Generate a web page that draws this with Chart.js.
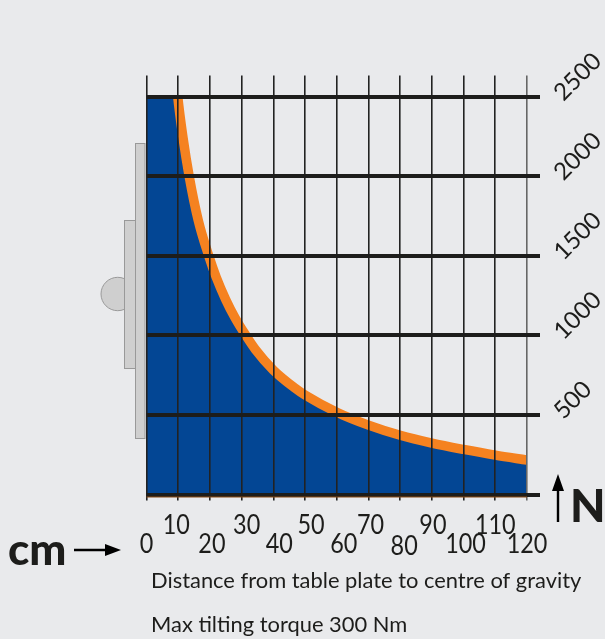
<!DOCTYPE html>
<html>
<head>
<meta charset="utf-8">
<title>Max tilting torque</title>
<script src="https://cdn.jsdelivr.net/npm/chart.js@4/dist/chart.umd.min.js"></script>
<style>
  html, body { margin: 0; padding: 0; background: #e9eaec; overflow: hidden; }
  canvas { display: block; }
</style>
</head>
<body>
<canvas id="chart" width="605" height="639"></canvas>
<script>
// values, middle of the orange band
// (first two points sit above the axis top and get clipped, they only close the blue area)
const distance = [0, 9.4, 9.85, 11.5, 13.45, 16.3, 19.65, 22, 25, 28, 31.3, 34.3, 40, 46.8, 50, 60, 70, 80, 90, 100, 110, 120];
const load = [2600, 2600, 2500, 2243, 2000, 1724, 1498, 1364, 1224, 1107, 1000, 912, 782, 669, 625, 517, 436, 372, 323, 283, 247, 216];
const distTicks = [0, 10, 20, 30, 40, 50, 60, 70, 80, 90, 100, 110, 120];
const loadTicks = [0, 500, 1000, 1500, 2000, 2500];
const captions = ["Distance from table plate to centre of gravity", "Max tilting torque 300 Nm"];

const ink = "#1d1d1b";
const font = "Lato";

// hand placed label nudges, the labels in the original are not on their ticks
const labelNudge = { 0: 0, 10: -2, 20: 2, 30: 5, 40: 6, 50: 6, 60: 7, 70: 2, 80: 4, 90: 1, 100: 2, 110: 0, 120: 0 };

const extras = {
  id: "extras",
  beforeDatasetsDraw(chart) {
    const c = chart.ctx;
    // table plate side view
    c.save();
    c.fillStyle = "#cfcfcf";
    c.strokeStyle = "#999";
    c.lineWidth = 1;
    c.beginPath();
    c.arc(117.7, 294, 16.7, 0, Math.PI * 2);
    c.fill();
    c.stroke();
    c.fillRect(124.5, 220.5, 11, 148);
    c.strokeRect(124.5, 220.5, 11, 148);
    c.fillRect(135.5, 143.5, 9.5, 295);
    c.strokeRect(135.5, 143.5, 9.5, 295);
    c.restore();
  },
  afterDraw(chart) {
    const c = chart.ctx;
    const x = chart.scales.x;
    const y = chart.scales.y;
    c.save();
    // thin brown edge under the base line
    c.strokeStyle = "#8a4a14";
    c.lineWidth = 1;
    c.beginPath();
    c.moveTo(x.getPixelForValue(0), y.getPixelForValue(0) + 2.5);
    c.lineTo(x.getPixelForValue(120), y.getPixelForValue(0) + 2.5);
    c.stroke();

    // distance labels, two staggered rows, narrow type so squeezed a bit
    c.fillStyle = ink;
    c.textAlign = "center";
    c.textBaseline = "alphabetic";
    c.font = "26px " + font;
    distTicks.forEach((t, i) => {
      let row = i % 2 ? 534 : 553;
      if (t === 80) row += 2;
      c.save();
      c.translate(x.getPixelForValue(t) + labelNudge[t], row);
      c.scale(0.9, 1);
      c.fillText(String(t), 0, 0);
      c.restore();
    });

    // captions
    c.textAlign = "left";
    c.font = "21.9px " + font;
    c.fillText(captions[0], 151, 588);
    c.fillText(captions[1], 151, 632);

    // cm and N with their arrows
    c.font = "900 44px " + font;
    c.fillText("cm", 8, 565);
    c.font = "900 46px " + font;
    c.fillText("N", 570, 522);

    c.strokeStyle = "#000";
    c.fillStyle = "#000";
    c.lineWidth = 2.4;
    c.beginPath();
    c.moveTo(74, 550);
    c.lineTo(108, 550);
    c.moveTo(558, 522);
    c.lineTo(558, 488);
    c.stroke();
    c.beginPath();
    c.moveTo(121, 550);
    c.lineTo(105, 544);
    c.lineTo(105, 556);
    c.closePath();
    c.moveTo(558, 474);
    c.lineTo(552, 491);
    c.lineTo(564, 491);
    c.closePath();
    c.fill();
    c.restore();
  }
};

new Chart(document.getElementById("chart"), {
  type: "line",
  data: {
    datasets: [
      {
        data: distance.map((d, i) => ({ x: d, y: load[i] })),
        backgroundColor: "#034694",
        borderColor: "#f58220",
        borderWidth: 9.5,
        pointRadius: 0,
        fill: "origin",
        cubicInterpolationMode: "monotone",
        clip: 0
      }
    ]
  },
  options: {
    responsive: false,
    animation: false,
    events: [],
    layout: { padding: { left: 146.5, top: 75.5, right: 0, bottom: 0 } },
    plugins: { legend: { display: false }, tooltip: { enabled: false } },
    scales: {
      x: {
        type: "linear",
        position: "bottom",
        min: 0,
        max: 120,
        afterBuildTicks: s => { s.ticks = distTicks.map(v => ({ value: v })); },
        afterFit: s => { s.height = 144.5; },
        border: { display: false },
        grid: {
          z: 1,
          color: ctx => (ctx.tick && ctx.tick.value === 120 ? "#666" : "#222"),
          lineWidth: 1.6,
          tickLength: 6
        },
        ticks: { display: false }
      },
      top: {
        type: "linear",
        position: "top",
        min: 0,
        max: 120,
        afterBuildTicks: s => { s.ticks = distTicks.map(v => ({ value: v })); },
        afterFit: s => { s.height = 21; },
        border: { display: false },
        grid: {
          drawOnChartArea: false,
          color: ctx => (ctx.tick && ctx.tick.value === 120 ? "#666" : "#222"),
          lineWidth: 1.6,
          tickLength: 21
        },
        ticks: { display: false }
      },
      y: {
        type: "linear",
        position: "right",
        min: 0,
        max: 2500,
        afterBuildTicks: s => { s.ticks = loadTicks.map(v => ({ value: v })); },
        afterFit: s => { s.width = 78; },
        border: { display: false },
        grid: { z: 2, color: ink, lineWidth: 4, tickLength: 13 },
        ticks: {
          minRotation: 45,
          maxRotation: 45,
          padding: 18,
          color: ink,
          font: { family: font, size: 24 },
          callback: v => (v === 0 ? "" : String(v))
        }
      }
    }
  },
  plugins: [extras]
});
</script>
</body>
</html>
